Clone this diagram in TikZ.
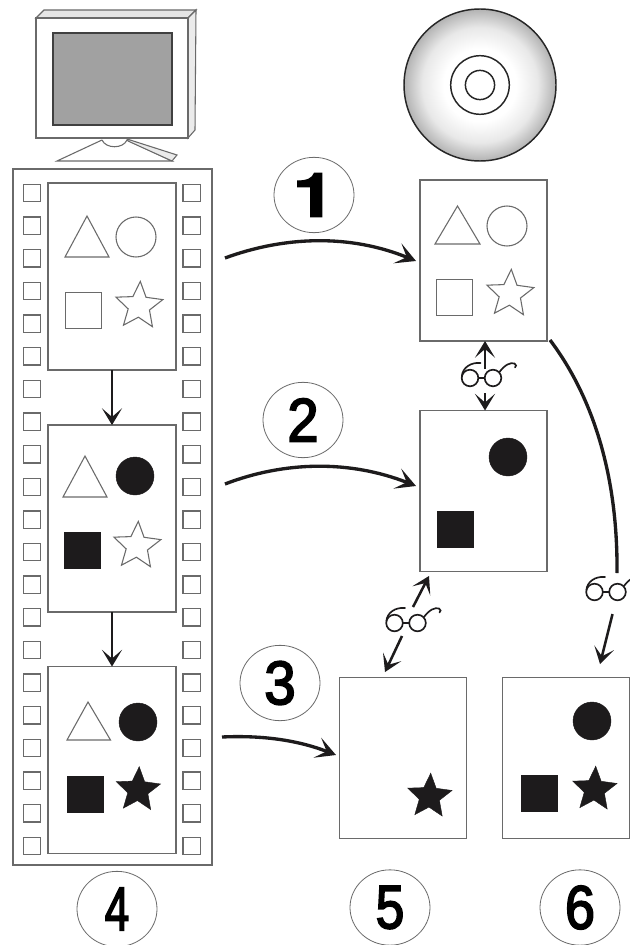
\documentclass[tikz,border=0pt]{standalone}
\usepackage{fontspec}
\setmainfont{Liberation Sans}
\newfontfamily\numfont[FakeBold=3]{Liberation Sans}
\newfontfamily\numbold[FakeBold=2,BoldFont={*}]{TeX Gyre Heros Bold}
\usetikzlibrary{arrows.meta,shapes.geometric}
\definecolor{ink}{HTML}{1D1B1C}
\definecolor{edge}{HTML}{6A6A6A}
\pgfdeclareradialshading{discshade}{\pgfpoint{0bp}{0bp}}{color(0bp)=(white);color(12bp)=(white);color(19bp)=(black!9);color(25bp)=(black!30);color(50bp)=(black!30)}
\tikzset{
 x=0.75pt,y=-0.75pt,
 frame/.style={draw=edge,line width=0.8pt,fill=white,line join=miter},
 hole/.style={draw=edge,line width=1pt,fill=white,minimum size=13pt,inner sep=0pt,outer sep=0pt},
 stripcard/.style={draw=edge,line width=0.8pt,fill=white,inner sep=0pt,outer sep=0pt,minimum width=96pt,minimum height=140.25pt},
 card/.style={draw=edge,line width=0.8pt,fill=white,inner sep=0pt,outer sep=0pt,minimum width=95.25pt,minimum height=120.75pt},
 outl/.style={draw=edge,line width=0.8pt,fill=white},
 full/.style={draw=ink,line width=0.3pt,fill=ink},
 strshape/.style={star,star points=5,star point ratio=2.2,inner sep=0pt,outer sep=0pt,minimum size=#1,rotate=-3},
 cirshape/.style={circle,inner sep=0pt,outer sep=0pt,minimum size=#1},
 sqshape/.style={rectangle,inner sep=0pt,outer sep=0pt,minimum size=#1},
 flow/.style={line width=2.5pt,ink,-{Stealth[length=15pt,width=16pt,inset=7.5pt]}},
 vflow/.style={line width=1.9pt,ink,-{Stealth[length=12.5pt,width=15pt,inset=6.5pt]}},
 plain/.style={line width=2.5pt,ink},
 badge/.style={ellipse,draw=edge,line width=0.6pt,fill=white,inner sep=0pt,outer sep=0pt,minimum width=60pt,minimum height=56.5pt},
 spectacle/.style={inner sep=0pt,outer sep=0pt,minimum width=36pt,minimum height=18pt},
 glasses/.pic={
  \draw[ink,line width=1.25pt,line cap=round] (-11.5,0) circle (8.3) (11.5,0) circle (8.3) (-3.2,0) -- (3.2,0);
  \draw[ink,line width=1.25pt,line cap=round] (-19.6,-2) .. controls (-19,-10) and (-11,-16) .. (-1,-15);
  \draw[ink,line width=1.25pt,line cap=round] (18,-6) .. controls (23,-13) and (29,-16) .. (33,-14.5) .. controls (35,-13.5) and (35,-11.5) .. (33.5,-10.5);
 }
}
\newcommand{\numtext}[2]{\scalebox{#1}[1]{\fontsize{46}{46}\selectfont\numfont #2}}
\begin{document}
\begin{tikzpicture}
\path[use as bounding box] (0,0) rectangle (630,945);
\fill[white] (0,0) rectangle (630,945);
% monitor
\draw[frame,fill=black!10] (36,18) -- (44,10) -- (196,10) -- (188,18) -- cycle;
\draw[frame,fill=black!8] (188,18) -- (196,10) -- (195,130) -- (188,138) -- cycle;
\draw[frame] (36,18) rectangle (188,138);
\draw[draw=black!75,line width=0.9pt,fill=black!37] (53,33) rectangle (172,125);
\draw[edge,line width=0.8pt,fill=white] (102,140) -- (57,161) -- (172,161) -- (127,140);
\draw[edge,line width=0.8pt,fill=black!8] (127,139) -- (177,155) -- (172,161) -- (128,141) -- cycle;
\draw[edge,line width=0.8pt] (102,140) .. controls (106,149) and (123,149) .. (127,140);
% disc
\shade[shading=discshade] (480,85) circle (76);
\draw[black!85,line width=1.1pt] (480,85) circle (76);
\draw[black!85,line width=1.1pt] (480,85) circle (29.3) (480,85) circle (14.6);
% film strip
\node[frame,inner sep=0pt,outer sep=0pt,minimum width=149.25pt,minimum height=522pt] (strip) at (112.5,517) {};
\foreach \i in {0,...,20}{
 \node[hole] (hl\i) at (32,193+\i*32.65) {};
 \node[hole] (hr\i) at (191.5,193+\i*32.65) {};
}
\node[stripcard] (f1) at (112,276.5) {};
\node[stripcard] (f2) at (112,518.5) {};
\node[stripcard] (f3) at (112,760) {};
% cards
\node[card] (r1) at (483.5,260.5) {};
\node[card] (r2) at (483.5,491) {};
\node[card] (r3) at (403,758) {};
\node[card] (r4) at (566,758) {};
% frame 1 shapes
\draw[outl] (87,216) -- (109,257) -- (65,257) -- cycle;
\node[outl,cirshape=30pt] (a1) at (136,237) {};
\node[outl,sqshape=27.5pt] (a2) at (83.5,310.5) {};
\node[outl,strshape=37pt] (a3) at (139,306) {};
% frame 2 shapes
\draw[outl] (85,456) -- (107,497) -- (63,497) -- cycle;
\node[full,cirshape=28.5pt] (b1) at (135,476) {};
\node[full,sqshape=27pt] (b2) at (82,550) {};
\node[outl,strshape=37pt] (b3) at (137,546) {};
% frame 3 shapes
\draw[outl] (88,702) -- (110.5,740) -- (67,740) -- cycle;
\node[full,cirshape=28.5pt] (c1) at (138,722) {};
\node[full,sqshape=27pt] (c2) at (85,794) {};
\node[full,strshape=35pt] (c3) at (138,790) {};
% card r1 shapes
\draw[outl] (457.5,206) -- (480,244) -- (435,244) -- cycle;
\node[outl,cirshape=30pt] (d1) at (507,226) {};
\node[outl,sqshape=27.5pt] (d2) at (454.5,297.5) {};
\node[outl,strshape=37pt] (d3) at (510,294) {};
% card r2 shapes
\node[full,cirshape=28.5pt] (e1) at (508,457) {};
\node[full,sqshape=27pt] (e2) at (455.5,529.5) {};
% card r3 shape
\node[full,strshape=35pt] (g1s) at (429.5,796.5) {};
% card r4 shapes
\node[full,cirshape=28.5pt] (h1) at (592,721) {};
\node[full,sqshape=27pt] (h2) at (539.5,793.5) {};
\node[full,strshape=35pt] (h3) at (594.5,789.5) {};
% flow arrows
\draw[vflow] (f1.south) -- (f2.north);
\draw[vflow] (f2.south) -- (f3.north);
\coordinate (s1) at (225,258);
\coordinate (s2) at (225,484);
\coordinate (s3) at (222,737);
\coordinate (t1) at (416,261);
\coordinate (t2) at (416,486);
\coordinate (t3) at (336,755);
\draw[flow] (s1) .. controls (285,236) and (350,234) .. (t1);
\draw[flow] (s2) .. controls (285,461) and (350,460) .. (t2);
\draw[flow] (s3) .. controls (265,735) and (300,741) .. (t3);
% glasses
\node[spectacle] (g1) at (485,381) {};
\pic at (481.5,378) {glasses};
\draw[vflow] (g1.north) -- (g1.north |- r1.south);
\draw[vflow] (g1.south) -- (g1.south |- r2.north);
\node[spectacle] (g2) at (406,623) {};
\pic at (406,623) {glasses};
\coordinate (u1) at (413,607);
\coordinate (u2) at (429,576);
\coordinate (v1) at (402,636);
\coordinate (v2) at (385,672);
\draw[vflow] (u1) -- (u2);
\draw[vflow] (v1) -- (v2);
\node[spectacle] (g3) at (606,592) {};
\pic at (606,592) {glasses};
\coordinate (w1) at (550,340);
\coordinate (w2) at (617,573);
\coordinate (w3) at (612.5,614);
\coordinate (w4) at (600,664);
\draw[plain] (w1) .. controls (590,393) and (618,470) .. (w2);
\draw[vflow] (w3) -- (w4);
% badges
\node[badge] (n1) at (314,195) {\scalebox{1.25}[1]{\fontsize{46}{46}\selectfont\numbold 1}};
\node[badge] (n2) at (303,420) {\numtext{0.92}{2}};
\node[badge] (n3) at (280,683) {\numtext{0.92}{3}};
\node[badge] (n4) at (117,909) {\numtext{0.72}{4}};
\node[badge] (n5) at (390,907.5) {\numtext{0.84}{5}};
\node[badge] (n6) at (580,907.5) {\numtext{0.88}{6}};
\end{tikzpicture}
\end{document}
